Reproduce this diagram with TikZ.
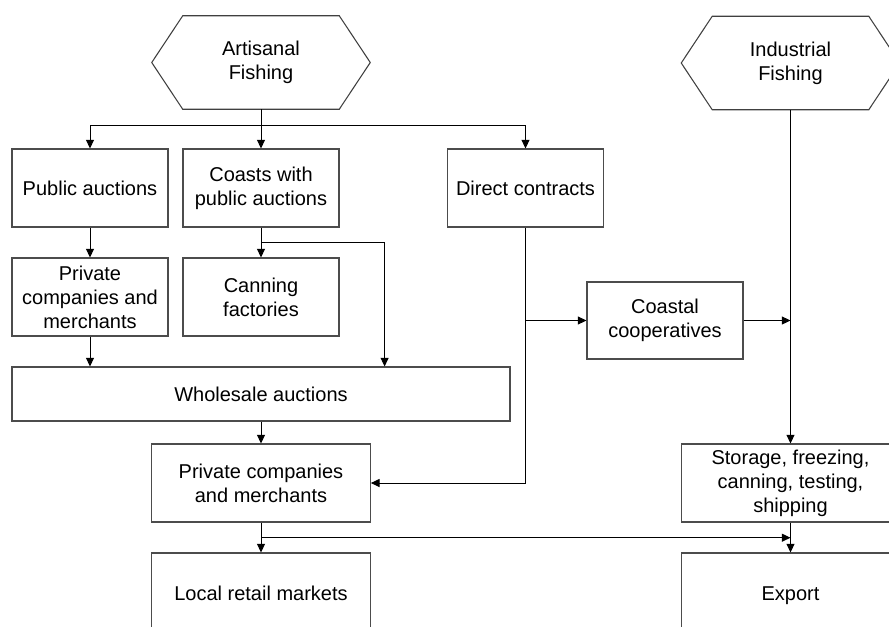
\documentclass[tikz,border=0pt]{standalone}
\usepackage{fontspec}
\setmainfont{Liberation Sans}
\usetikzlibrary{arrows.meta,calc}
\tikzset{
  box/.style={draw=black!70, line width=0.8pt, fill=white, align=center,
    inner sep=1pt, font=\fontsize{15}{18}\selectfont},
  smallbox/.style={box, minimum width=117pt, minimum height=58.5pt},
  widebox/.style={box, minimum width=164pt, minimum height=58.5pt},
  hexlabel/.style={align=center, inner sep=0pt, minimum width=117pt,
    minimum height=69.75pt, font=\fontsize{15}{18}\selectfont},
  hexline/.style={draw=black!75, line width=0.8pt},
  arr/.style={draw=black, line width=0.75pt, -{Triangle[length=6.5pt,width=6pt]}},
  ln/.style={draw=black, line width=0.75pt},
}
\newcommand{\lowstrut}{\rule[-5.4pt]{0pt}{24pt}}
\begin{document}
\begin{tikzpicture}[x=0.75pt, y=-0.75pt]
\useasboundingbox (0,0) rectangle (889,626);
\clip (0,0) rectangle (889,626);

% hexagons
\node[hexlabel] (art) at (261,62.5) {Artisanal\\Fishing};
\node[hexlabel] (ind) at (790.5,63) {Industrial\\Fishing};
\draw[hexline] (art.north west) -- (art.north east) -- ($(art.east)+(31,0)$)
  -- (art.south east) -- (art.south west) -- ($(art.west)-(31,0)$) -- cycle;
\draw[hexline] (ind.north west) -- (ind.north east) -- ($(ind.east)+(31,0)$)
  -- (ind.south east) -- (ind.south west) -- ($(ind.west)-(31,0)$) -- cycle;

% boxes
\node[smallbox] (pub) at (90,188) {Public auctions};
\node[smallbox] (coasts) at (261,188) {Coasts with\\public auctions};
\node[smallbox] (direct) at (525.5,188) {Direct contracts};
\node[smallbox] (priv1) at (90,297) {Private\\companies and\\merchants};
\node[smallbox] (canning) at (261,297) {Canning\\factories};
\node[smallbox, minimum height=57.75pt] (coastal) at (665,320.5) {Coastal\\cooperatives};
\node[box, minimum width=373.5pt, minimum height=40.5pt] (whole) at (261,394) {Wholesale auctions};
\node[widebox] (priv2) at (261,483) {Private companies\\and merchants};
\node[widebox] (storage) at (790.5,483) {Storage, freezing,\\canning, testing,\\shipping};
\node[widebox] (local) at (261,592) {\lowstrut Local retail markets};
\node[widebox] (export) at (790.5,592) {\lowstrut Export};

% connectors
\coordinate (s1) at (261,125.7);
\draw[ln] (art.south) -- (s1);
\draw[arr] (s1) -| (pub.north);
\draw[arr] (s1) -| (direct.north);
\draw[arr] (s1) -- (coasts.north);

\draw[arr] (pub) -- (priv1);
\draw[arr] (coasts) -- (canning);
\coordinate (s2) at (261,242.3);
\coordinate (s2r) at (384.6,242.3);
\draw[arr] (s2) -- (s2r) -- (s2r |- whole.north);
\draw[arr] (priv1.south) -- (priv1.south |- whole.north);
\draw[arr] (whole.south -| priv2.north) -- (priv2.north);

\draw[arr] (direct.south) |- (priv2.east);
\draw[arr] (direct.south |- coastal.west) -- (coastal.west);
\draw[arr] (coastal.east) -- (coastal.east -| ind.south);
\draw[arr] (ind.south) -- (storage.north);
\draw[arr] (storage) -- (export);
\draw[arr] (priv2) -- (local);
\coordinate (s3) at (261,537.7);
\draw[arr] (s3) -- (s3 -| storage.south);
\end{tikzpicture}
\end{document}
